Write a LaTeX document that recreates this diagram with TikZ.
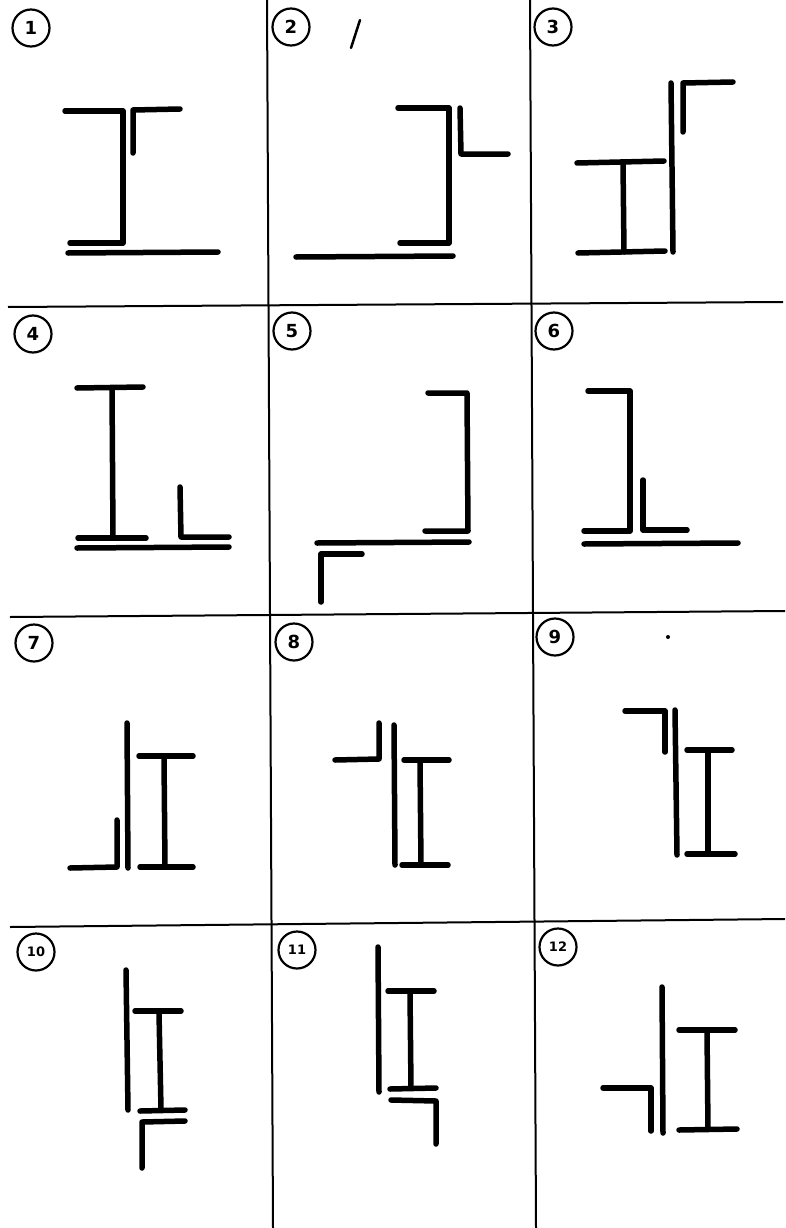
\documentclass[tikz,border=0pt]{standalone}
\usepackage{fontspec}
\setsansfont{DejaVu Sans}
\begin{document}
\begin{tikzpicture}[x=1pt,y=-1pt,
  member/.style={line width=5.5pt, line cap=round, line join=round},
  gridline/.style={line width=2pt},
  num/.style={circle, draw, line width=2.2pt, minimum size=37pt, inner sep=0pt, font=\sffamily\bfseries\fontsize{18}{18}\selectfont},
  numsmall/.style={num, font=\sffamily\bfseries\fontsize{13}{13}\selectfont}]
\useasboundingbox[fill=white] (0,0) rectangle (785,1228);
% grid
\draw[gridline] (8,307) -- (783,302);
\draw[gridline] (10,617) -- (785,611);
\draw[gridline] (10,927) -- (785,919);
\draw[gridline] (267,0) -- (273,1228);
\draw[gridline] (530,0) -- (536,1228);
% labels
\node[num] (n1) at (31,28) {1};
\node[num] (n2) at (291,27) {2};
\node[num] (n3) at (553,27) {3};
\node[num] (n4) at (33,334) {4};
\node[num] (n5) at (292,331) {5};
\node[num] (n6) at (554,331) {6};
\node[num] (n7) at (34,643) {7};
\node[num] (n8) at (294,642) {8};
\node[num] (n9) at (555,637) {9};
\node[numsmall] (n10) at (36,952) {10};
\node[numsmall] (n11) at (297,950) {11};
\node[numsmall] (n12) at (558,947) {12};
% stray marks
\draw[line width=2.5pt, line cap=round] (360,20) -- (351,48);
\fill (668,637) circle (2pt);
% panel 1
\draw[member] (65,111) -- (123,111) -- (123,243) -- (70,243);
\draw[member] (133,153) -- (133,110) -- (180,109);
\draw[member] (68,253) -- (218,252);
% panel 2
\draw[member] (398,108) -- (449,108) -- (449,243) -- (400,243);
\draw[member] (460,108) -- (461,154) -- (508,154);
\draw[member] (296,257) -- (453,256);
% panel 3
\draw[member] (577,163) -- (664,161);
\draw[member] (623,163) -- (624,252);
\draw[member] (578,253) -- (665,251);
\draw[member] (671,83) -- (673,252);
\draw[member] (683,132) -- (683,83) -- (733,82);
% panel 4
\draw[member] (77,388) -- (143,387);
\draw[member] (112,388) -- (113,537);
\draw[member] (78,538) -- (146,538);
\draw[member] (180,487) -- (181,537) -- (229,537);
\draw[member] (77,548) -- (229,547);
% panel 5
\draw[member] (428,393) -- (467,393) -- (468,531) -- (425,531);
\draw[member] (317,543) -- (469,542);
\draw[member] (321,602) -- (321,554) -- (362,554);
% panel 6
\draw[member] (588,391) -- (630,391) -- (630,531) -- (584,531);
\draw[member] (643,480) -- (643,530) -- (687,530);
\draw[member] (584,544) -- (738,543);
% panel 7
\draw[member] (127,723) -- (128,868);
\draw[member] (117,820) -- (117,867) -- (70,868);
\draw[member] (139,756) -- (193,756);
\draw[member] (164,758) -- (165,867);
\draw[member] (140,867) -- (193,867);
% panel 8
\draw[member] (379,723) -- (379,759) -- (335,760);
\draw[member] (394,725) -- (395,865);
\draw[member] (404,760) -- (449,760);
\draw[member] (420,762) -- (421,865);
\draw[member] (402,865) -- (448,865);
% panel 9
\draw[member] (625,711) -- (665,711) -- (665,752);
\draw[member] (675,710) -- (677,855);
\draw[member] (687,750) -- (732,750);
\draw[member] (708,752) -- (708,853);
\draw[member] (687,854) -- (735,854);
% panel 10
\draw[member] (126,970) -- (128,1110);
\draw[member] (135,1011) -- (181,1011);
\draw[member] (159,1013) -- (161,1109);
\draw[member] (140,1111) -- (185,1110);
\draw[member] (142,1168) -- (142,1122) -- (185,1121);
% panel 11
\draw[member] (378,947) -- (379,1092);
\draw[member] (388,991) -- (434,991);
\draw[member] (410,993) -- (411,1088);
\draw[member] (390,1089) -- (436,1088);
\draw[member] (391,1100) -- (436,1101) -- (436,1144);
% panel 12
\draw[member] (662,987) -- (663,1133);
\draw[member] (679,1030) -- (735,1030);
\draw[member] (707,1032) -- (708,1129);
\draw[member] (679,1130) -- (737,1129);
\draw[member] (603,1088) -- (651,1088) -- (651,1131);
\end{tikzpicture}
\end{document}
